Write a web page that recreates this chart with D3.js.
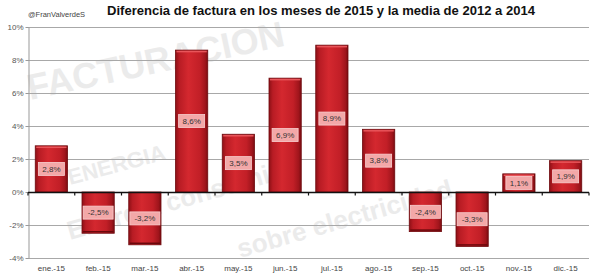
<!DOCTYPE html>
<html><head><meta charset="utf-8">
<script src="https://cdn.jsdelivr.net/npm/d3@7"></script>
<style>body{margin:0;background:#fff}svg{display:block}</style>
</head><body><svg id="c" width="600" height="279"></svg>
<script>
const categories = ["ene.-15","feb.-15","mar.-15","abr.-15","may.-15","jun.-15","jul.-15","ago.-15","sep.-15","oct.-15","nov.-15","dic.-15"];
const values = [2.8,-2.5,-3.2,8.6,3.5,6.9,8.9,3.8,-2.4,-3.3,1.1,1.9];
const yTicks = [-4,-2,0,2,4,6,8,10];
const title = "Diferencia de factura en los meses de 2015 y la media de 2012 a 2014";
const author = "@FranValverdeS";

const svg = d3.select("#c");
const L=28, R=589, T=27, B=258;

// faint watermark
const wm = svg.append("g").attr("fill","#ebebeb").attr("font-family","Liberation Sans, Arial, sans-serif").attr("font-weight","bold");
wm.append("text").attr("transform","translate(30,100) rotate(-12)").attr("font-size",36).text("FACTURACION");
wm.append("text").attr("transform","translate(70,185) rotate(-15)").attr("font-size",22).text("ENERGIA");
wm.append("text").attr("transform","translate(70,240) rotate(-16)").attr("font-size",26).text("Energia consumida");
wm.append("text").attr("transform","translate(240,258) rotate(-16)").attr("font-size",26).text("sobre electricidad");

const x = d3.scaleBand().domain(categories).range([L,R]).paddingInner(0.31).paddingOuter(0.155);
const y = d3.scaleLinear().domain([-4,10]).range([B,T]);

// gridlines
svg.append("g").selectAll("line").data(yTicks.filter(d=>d!==0)).join("line")
  .attr("x1",L).attr("x2",R).attr("y1",d=>Math.round(y(d))+0.5).attr("y2",d=>Math.round(y(d))+0.5)
  .attr("stroke","#a8a8a8").attr("stroke-width",1);

// y axis
const ya = svg.append("g").attr("transform",`translate(${L+0.5},0)`)
  .call(d3.axisLeft(y).tickValues(yTicks).tickFormat(d=>d+"%").tickSize(3).tickSizeOuter(0));
ya.select(".domain").attr("stroke","#999");
ya.selectAll(".tick line").attr("stroke","#999");
ya.selectAll("text").attr("font-family","Liberation Sans, Arial, sans-serif").attr("font-size",8).attr("fill","#555").attr("x",-5);

// gradient
const defs = svg.append("defs");
const g = defs.append("linearGradient").attr("id","bg").attr("x1","0").attr("x2","1").attr("y1","0").attr("y2","0");
[[0,"#8e1016"],[0.12,"#b81c24"],[0.4,"#d4282f"],[0.75,"#c21f27"],[0.92,"#a0151c"],[1,"#7a0c10"]].forEach(s=>g.append("stop").attr("offset",s[0]).attr("stop-color",s[1]));

const bars = svg.append("g");
bars.selectAll("rect").data(values).join("rect")
  .attr("x",(d,i)=>x(categories[i]))
  .attr("width",x.bandwidth())
  .attr("y",d=>y(Math.max(0,d)))
  .attr("height",d=>Math.abs(y(d)-y(0)))
  .attr("fill","url(#bg)")
  .attr("stroke","#6e0a0e").attr("stroke-width",0.8);
bars.selectAll("line").data(values).join("line")
  .attr("x1",(d,i)=>x(categories[i])+1).attr("x2",(d,i)=>x(categories[i])+x.bandwidth()-1)
  .attr("y1",d=>d>0?y(d)+1.5:y(d)-1.5).attr("y2",d=>d>0?y(d)+1.5:y(d)-1.5)
  .attr("stroke",d=>d>0?"#e8555a":"#6a080c").attr("stroke-width",1.5);

// x axis at 0
const xa = svg.append("g").attr("transform",`translate(0,${Math.round(y(0))+0.5})`);
xa.append("line").attr("x1",L).attr("x2",R).attr("stroke","#111").attr("stroke-width",1.6);
const bounds = d3.range(13).map(i=>L+(R-L)/12*i);
xa.selectAll("line.t").data(bounds).join("line").attr("class","t")
  .attr("x1",d=>d).attr("x2",d=>d).attr("y1",0).attr("y2",3).attr("stroke","#111").attr("stroke-width",1.2);

// x labels
svg.append("g").selectAll("text").data(categories).join("text")
  .attr("x",d=>x(d)+x.bandwidth()/2).attr("y",271)
  .attr("text-anchor","middle").attr("font-family","Liberation Sans, Arial, sans-serif").attr("font-size",8).attr("fill","#444")
  .text(d=>d);

// data labels
const fmt = d=>d.toFixed(1).replace(".",",")+"%";
const lab = svg.append("g").selectAll("g").data(values).join("g")
  .attr("transform",(d,i)=>`translate(${x(categories[i])+x.bandwidth()/2},${(y(d)+y(0))/2})`);
lab.append("rect").attr("x",d=>d<0?-15:-13).attr("width",d=>d<0?30:26).attr("y",-6.5).attr("height",13)
  .attr("fill","#f3a8a8").attr("stroke","#f8d0d0").attr("stroke-width",0.8);
lab.append("text").attr("text-anchor","middle").attr("dy","0.35em")
  .attr("font-family","Liberation Sans, Arial, sans-serif").attr("font-size",8).attr("fill","#333").text(fmt);

// title
svg.append("text").attr("x",107).attr("y",15).attr("textLength",428).attr("lengthAdjust","spacingAndGlyphs")
  .attr("font-family","Liberation Sans, Arial, sans-serif").attr("font-weight","bold").attr("font-size",13.5).attr("fill","#111").text(title);
svg.append("text").attr("x",28).attr("y",17).attr("font-family","Liberation Sans, Arial, sans-serif").attr("font-size",7.5).attr("fill","#444").text(author);
</script></body></html>
